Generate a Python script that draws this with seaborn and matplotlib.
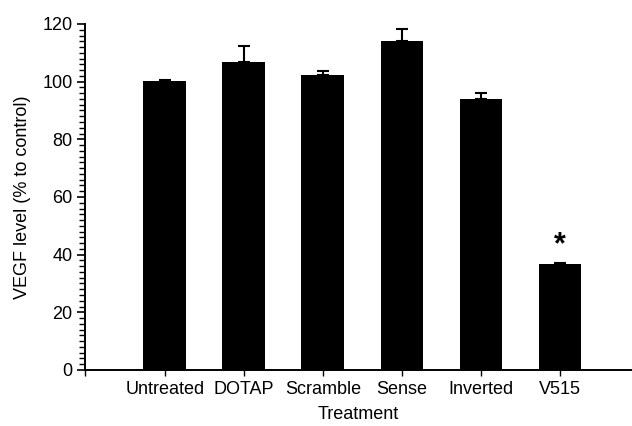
import matplotlib
matplotlib.use("Agg")
import matplotlib.pyplot as plt
import seaborn as sns
import numpy as np
import pandas as pd
from matplotlib.ticker import MultipleLocator

treatments = ["Untreated", "DOTAP", "Scramble", "Sense", "Inverted", "V515"]
vegf_level = [100.2, 106.8, 102.2, 114.0, 94.0, 36.7]
sem_upper = [0.3, 5.6, 1.6, 4.4, 2.0, 0.4]
significant = ["", "", "", "", "", "*"]

sns.set_theme(style="ticks")
plt.rcParams["font.family"] = ["Liberation Sans", "DejaVu Sans"]

df = pd.DataFrame({"Treatment": treatments, "VEGF": vegf_level})

fig = plt.figure(figsize=(6.32, 4.26), dpi=100)
ax = fig.add_axes([0.1345, 0.1315, 0.8655, 0.8122])

sns.barplot(data=df, x="Treatment", y="VEGF", color="black", saturation=1,
            width=0.54, ax=ax, edgecolor="black", linewidth=0)

xpos = np.arange(len(treatments))
ax.errorbar(xpos, vegf_level, yerr=[np.zeros(len(sem_upper)), sem_upper],
            fmt="none", ecolor="black", elinewidth=1.5, capsize=4.5, capthick=1.5,
            zorder=1)

for x, v, e, s in zip(xpos, vegf_level, sem_upper, significant):
    if s:
        ax.text(x, v + e + 1.0, s, ha="center", va="bottom", fontsize=22,
                fontweight="bold", color="black")

ax.set_xlim(-1.008, 5.91)
ax.set_ylim(0, 120)
ax.yaxis.set_major_locator(MultipleLocator(20))
ax.yaxis.set_minor_locator(MultipleLocator(2))
ax.set_xticks([-1.008] + list(xpos))
ax.set_xticklabels([""] + treatments)

ax.spines["top"].set_visible(False)
ax.spines["right"].set_visible(False)
for sp in ("left", "bottom"):
    ax.spines[sp].set_linewidth(1.4)
    ax.spines[sp].set_color("black")

ax.tick_params(axis="y", which="major", length=6, width=1.2, labelsize=13,
               colors="black", pad=3)
ax.tick_params(axis="y", which="minor", length=4, width=1.0, colors="black")
ax.tick_params(axis="x", which="major", length=4, width=1.0, labelsize=13,
               colors="black", pad=4)

ax.set_xlabel("Treatment", fontsize=13, color="black", labelpad=6)
ax.set_ylabel("VEGF level (% to control)", fontsize=13, color="black", labelpad=8)

fig.savefig("out.png", dpi=100)
